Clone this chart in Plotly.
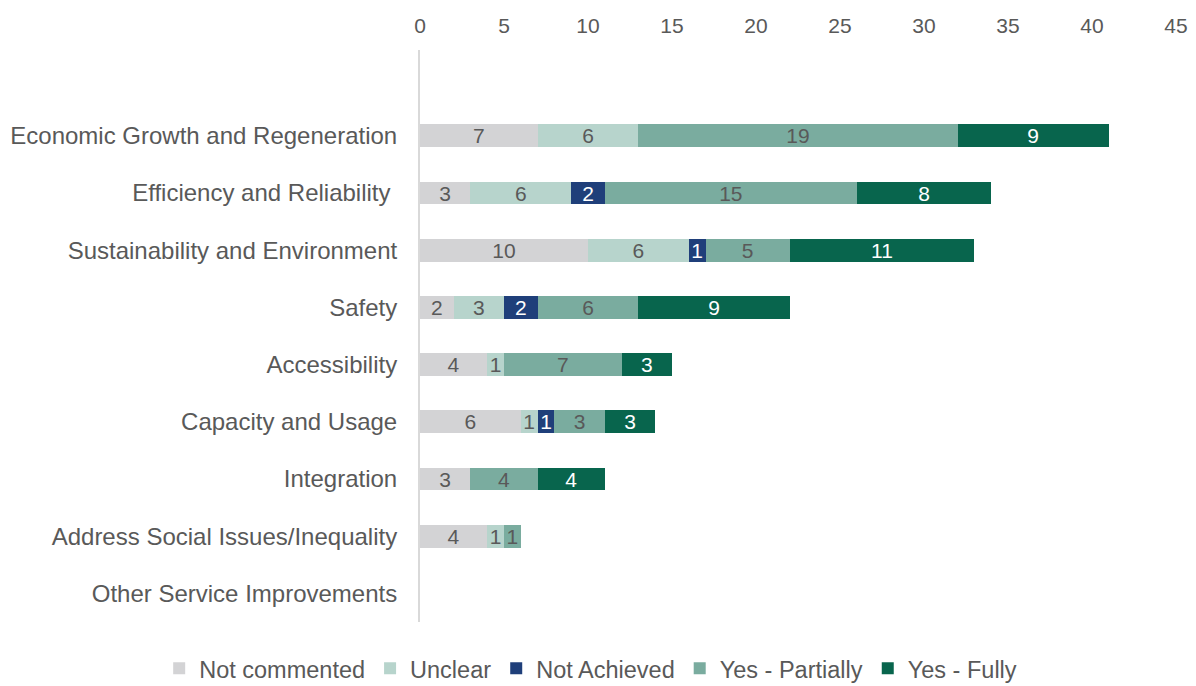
import plotly.graph_objects as go

categories = [
    "Economic Growth and Regeneration",
    "Efficiency and Reliability\u00a0",
    "Sustainability and Environment",
    "Safety",
    "Accessibility",
    "Capacity and Usage",
    "Integration",
    "Address Social Issues/Inequality",
    "Other Service Improvements",
]

not_commented = [7, 3, 10, 2, 4, 6, 3, 4, 0]
unclear = [6, 6, 6, 3, 1, 1, 0, 1, 0]
not_achieved = [0, 2, 1, 2, 0, 1, 0, 0, 0]
yes_partially = [19, 15, 5, 6, 7, 3, 4, 1, 0]
yes_fully = [9, 8, 11, 9, 3, 3, 4, 0, 0]

series = [
    ("Not commented", not_commented, "#D3D3D5", "#595959"),
    ("Unclear", unclear, "#B7D4CC", "#595959"),
    ("Not Achieved", not_achieved, "#1F3F7A", "#FFFFFF"),
    ("Yes - Partially", yes_partially, "#7AAC9F", "#595959"),
    ("Yes - Fully", yes_fully, "#08654D", "#FFFFFF"),
]

FONT = "Liberation Sans, Arial, sans-serif"
GREY = "#595959"

fig = go.Figure()
for name, vals, color, txtcolor in series:
    fig.add_trace(go.Bar(
        name=name,
        y=categories,
        x=vals,
        orientation="h",
        marker=dict(color=color, line=dict(width=0)),
        width=0.4,
        text=[str(v) if v else "" for v in vals],
        textposition="inside",
        insidetextanchor="middle",
        textangle=0,
        textfont=dict(color=txtcolor, size=21, family=FONT),
        constraintext="none",
        cliponaxis=False,
    ))

fig.update_layout(
    barmode="stack",
    width=1196,
    height=686,
    margin=dict(l=420, r=20, t=50, b=64, autoexpand=False),
    plot_bgcolor="white",
    paper_bgcolor="white",
    font=dict(family=FONT, size=21, color=GREY),
    uniformtext=dict(minsize=21, mode="show"),
    xaxis=dict(
        side="top",
        range=[0, 45],
        dtick=5,
        showgrid=False,
        zeroline=False,
        showline=False,
        ticks="",
        tickfont=dict(size=21, color=GREY),
        ticklabelstandoff=12,
    ),
    yaxis=dict(
        type="category",
        categoryorder="array",
        categoryarray=categories,
        range=[8.5, -1.5],
        showgrid=False,
        zeroline=False,
        showline=True,
        linecolor="#D9D9D9",
        linewidth=2,
        ticks="",
        tickfont=dict(size=24, color=GREY),
        ticklabelstandoff=16,
    ),
    legend=dict(
        orientation="h",
        x=-0.345,
        xanchor="left",
        y=-0.043,
        yanchor="top",
        font=dict(size=23.5, color=GREY),
        itemwidth=30,
        traceorder="normal",
    ),
)

fig.write_html("out.html")
